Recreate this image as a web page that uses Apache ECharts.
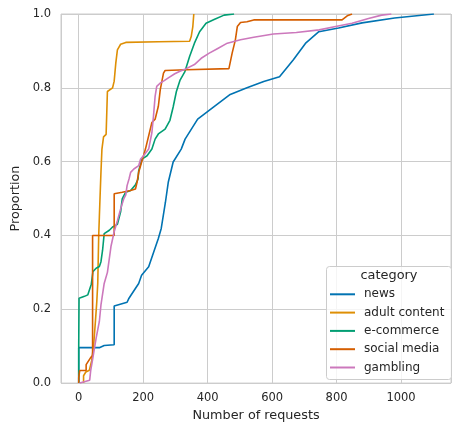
<!DOCTYPE html>
<html>
<head>
<meta charset="utf-8">
<script src="https://cdn.jsdelivr.net/npm/echarts@6/dist/echarts.min.js"></script>
<style>
  html, body { margin: 0; padding: 0; background: #ffffff; }
  #chart { width: 454px; height: 427px; }
</style>
</head>
<body>
<div id="chart"></div>
<script>
// Categories and their colour-blind friendly palette
const categories = ['news', 'adult content', 'e-commerce', 'social media', 'gambling'];
const colors = ['#0173b2', '#de8f05', '#029e73', '#d55e00', '#cc78bc'];

// Tick labels
const xTicks = [0, 200, 400, 600, 800, 1000];
const yTicks = [0, 0.2, 0.4, 0.6, 0.8, 1.0];

// Empirical CDF points: [number of requests, cumulative proportion]
const news = [[0,0],[0,0.096],[64,0.096],[79,0.102],[110,0.104],[110,0.209],[150,0.219],[156,0.23],[162,0.238],[186,0.27],[195,0.292],[217,0.315],[247,0.392],[256,0.419],[269,0.49],[278,0.545],[293,0.599],[318,0.634],[330,0.661],[369,0.715],[421,0.75],[470,0.782],[522,0.80],[574,0.817],[623,0.83],[666,0.876],[705,0.922],[745,0.952],[806,0.962],[879,0.976],[980,0.989],[1102,1.0]];

const adultContent = [[15,0],[15,0.02],[22,0.03],[33,0.035],[40,0.06],[46,0.1],[52,0.17],[56,0.22],[59,0.27],[62,0.4],[64,0.45],[66,0.5],[69,0.572],[72,0.634],[77,0.667],[85,0.674],[89,0.79],[105,0.8],[110,0.818],[115,0.867],[120,0.903],[130,0.918],[146,0.923],[247,0.925],[344,0.926],[349,0.939],[354,0.966],[357,1.0]];

const eCommerce = [[0,0],[0,0.1],[1,0.23],[18,0.235],[28,0.239],[39,0.268],[44,0.302],[54,0.311],[64,0.316],[69,0.329],[74,0.36],[79,0.405],[95,0.414],[105,0.423],[120,0.43],[130,0.464],[135,0.499],[140,0.508],[146,0.517],[161,0.522],[176,0.537],[184,0.553],[186,0.575],[196,0.607],[212,0.616],[227,0.634],[237,0.661],[247,0.675],[268,0.688],[283,0.712],[293,0.748],[303,0.79],[314,0.82],[329,0.843],[344,0.885],[359,0.921],[375,0.952],[395,0.975],[420,0.985],[451,0.997],[482,1.0]];

const socialMedia = [[0,0],[0,0.015],[3,0.034],[23,0.034],[23,0.05],[37,0.069],[43,0.075],[43,0.40],[110,0.40],[110,0.513],[135,0.517],[161,0.522],[176,0.526],[181,0.544],[186,0.571],[207,0.634],[227,0.706],[237,0.715],[247,0.75],[253,0.795],[263,0.84],[268,0.847],[334,0.849],[466,0.852],[476,0.894],[486,0.93],[492,0.966],[502,0.977],[522,0.979],[543,0.984],[817,0.984],[833,0.995],[848,1.0]];

const gambling = [[3,0],[34,0.008],[37,0.033],[44,0.069],[54,0.122],[64,0.167],[69,0.212],[79,0.27],[89,0.3],[100,0.37],[110,0.41],[120,0.44],[130,0.472],[140,0.5],[146,0.51],[150,0.535],[156,0.553],[161,0.571],[171,0.58],[186,0.589],[192,0.607],[201,0.616],[217,0.634],[227,0.679],[232,0.724],[237,0.777],[242,0.804],[253,0.813],[263,0.818],[278,0.827],[298,0.838],[314,0.845],[329,0.85],[359,0.863],[380,0.88],[405,0.894],[430,0.906],[461,0.921],[502,0.93],[543,0.937],[604,0.946],[675,0.95],[746,0.957],[797,0.966],[848,0.975],[899,0.988],[940,0.997],[970,1.0]];

const seriesData = [news, adultContent, eCommerce, socialMedia, gambling];

const FONT = 'DejaVu Sans';
const TEXT = '#262626';
const GRID = '#cccccc';

const chart = echarts.init(document.getElementById('chart'), null, { renderer: 'canvas' });

chart.setOption({
  animation: false,
  color: colors,
  grid: {
    left: 61, top: 14, width: 396, height: 371.5,
    show: true, borderColor: GRID, borderWidth: 1, containLabel: false
  },
  xAxis: {
    type: 'value',
    min: -55, max: 1155,
    name: 'Number of requests',
    nameLocation: 'middle',
    nameGap: 23,
    nameTextStyle: { fontFamily: FONT, fontSize: 12.8, color: TEXT },
    axisLine: { show: false },
    axisTick: { show: false },
    axisLabel: {
      fontFamily: FONT, fontSize: 11.5, color: TEXT, margin: 9,
      formatter: v => (xTicks.indexOf(v) >= 0 ? String(v) : '')
    },
    splitLine: { show: true, lineStyle: { color: GRID, width: 1 } }
  },
  yAxis: {
    type: 'value',
    min: 0, max: 1, interval: 0.2,
    name: 'Proportion',
    nameLocation: 'middle',
    nameGap: 36,
    nameTextStyle: { fontFamily: FONT, fontSize: 12.8, color: TEXT },
    axisLine: { show: false },
    axisTick: { show: false },
    axisLabel: {
      fontFamily: FONT, fontSize: 11.5, color: TEXT, margin: 10,
      formatter: v => {
        const t = yTicks.find(k => Math.abs(k - v) < 1e-9);
        return t === undefined ? '' : t.toFixed(1);
      }
    },
    splitLine: { show: true, lineStyle: { color: GRID, width: 1 } }
  },
  legend: {
    data: categories,
    orient: 'vertical',
    left: 330, top: 287.3,
    padding: 0,
    icon: 'rect',
    itemWidth: 25, itemHeight: 2,
    itemGap: 4.3,
    z: 6,
    textStyle: { fontFamily: FONT, fontSize: 12, color: TEXT, lineHeight: 14, padding: [0, 0, 0, 4] }
  },
  graphic: [
    {
      type: 'rect', z: 5,
      shape: { x: 326.5, y: 266.5, width: 125, height: 113, r: 3 },
      style: { fill: 'rgba(255,255,255,0.8)', stroke: GRID, lineWidth: 1 }
    },
    {
      type: 'text', z: 6,
      x: 389, y: 276,
      style: { text: 'category', fontFamily: FONT, fontSize: 12.9, fill: TEXT, align: 'center', verticalAlign: 'middle' }
    }
  ],
  series: categories.map((name, i) => ({
    name: name,
    type: 'line',
    data: seriesData[i],
    showSymbol: false,
    symbol: 'none',
    z: 2 + i,
    clip: true,
    lineStyle: { width: 1.6, color: colors[i] },
    emphasis: { disabled: true }
  }))
});
</script>
</body>
</html>
